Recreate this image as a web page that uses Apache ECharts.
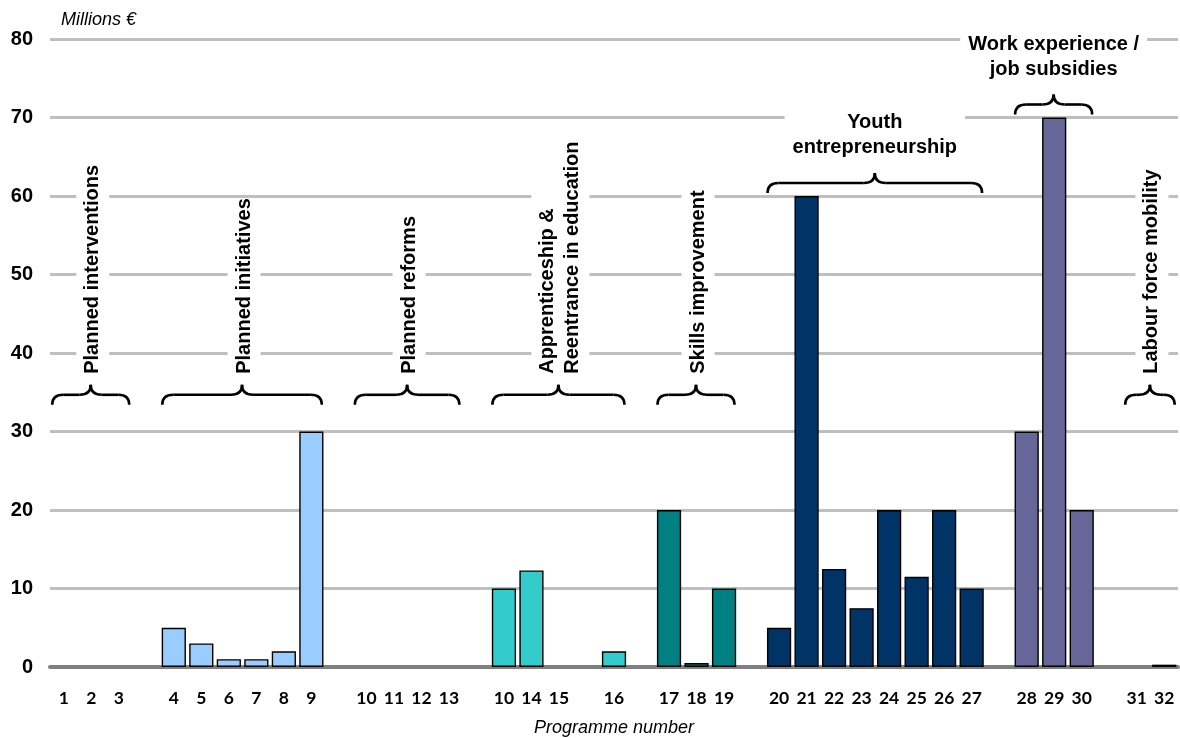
<!DOCTYPE html>
<html>
<head>
<meta charset="utf-8">
<script src="https://cdn.jsdelivr.net/npm/echarts@6/dist/echarts.min.js"></script>
<style>
  html, body { margin: 0; padding: 0; background: #fff; }
  #chart { width: 1180px; height: 738px; }
</style>
</head>
<body>
<div id="chart"></div>
<script>
// Programme numbers along the x axis; '' marks the spacer slot between groups
const categories = [
  '1', '2', '3', '',
  '4', '5', '6', '7', '8', '9', '',
  '10', '11', '12', '13', '',
  '10', '14', '15', '', '16', '',
  '17', '18', '19', '',
  '20', '21', '22', '23', '24', '25', '26', '27', '',
  '28', '29', '30', '',
  '31', '32'
];

// Budget per programme, millions of euros (null = spacer slot)
const budgets = [
  0, 0, 0, null,
  5, 3, 1, 1, 2, 30, null,
  0, 0, 0, 0, null,
  10, 12.3, 0, null, 2, null,
  20, 0.5, 10, null,
  5, 60, 12.5, 7.5, 20, 11.5, 20, 10, null,
  30, 70, 20, null,
  0, 0.3
];

// Programme groups: label and first/last slot on the category axis
const groupLabels = [
  'Planned interventions',
  'Planned initiatives',
  'Planned reforms',
  'Apprenticeship &\nReentrance in education',
  'Skills improvement',
  'Youth\nentrepreneurship',
  'Work experience /\njob subsidies',
  'Labour force mobility'
];
const groupFirstSlot = [0, 4, 11, 16, 22, 26, 35, 39];
const groupLastSlot  = [2, 9, 14, 20, 24, 33, 37, 40];

const yTicks = [0, 10, 20, 30, 40, 50, 60, 70, 80];

// Appearance
const groupColors = ['#99CCFF', '#99CCFF', '#99CCFF', '#33CCCC', '#008080', '#003366', '#666699', '#666699'];
const horizontalLabel = [false, false, false, false, false, true, true, false];
const BRACE_FLOOR = 33.4;   // braces never sit lower than this value

function groupOf(i) {
  for (let g = 0; g < groupFirstSlot.length; g++) {
    if (i >= groupFirstSlot[g] && i <= groupLastSlot[g]) return g;
  }
  return 0;
}

const barData = budgets.map((v, i) => ({
  value: v,
  itemStyle: {
    color: groupColors[groupOf(i)],
    borderWidth: v ? 1.4 : 0
  }
}));

const chart = echarts.init(document.getElementById('chart'), null, { renderer: 'canvas' });

chart.setOption({
  animation: false,
  backgroundColor: '#ffffff',
  title: {
    text: 'Millions €',
    left: 61, top: 11, padding: 0,
    textStyle: { fontFamily: 'Liberation Sans, Arial, sans-serif', fontStyle: 'italic', fontWeight: 'normal', fontSize: 18, color: '#000' }
  },
  grid: { left: 50, right: 2, top: 39, bottom: 71, outerBoundsMode: 'none', containLabel: false },
  xAxis: {
    type: 'category',
    data: categories,
    name: 'Programme number',
    nameLocation: 'middle',
    nameGap: 52,
    nameTextStyle: { fontFamily: 'Liberation Sans, Arial, sans-serif', fontStyle: 'italic', fontSize: 18, color: '#000' },
    axisTick: { show: false },
    axisLine: { show: true, lineStyle: { color: '#808080', width: 4 } },
    axisLabel: {
      interval: 0, margin: 22,
      fontFamily: 'Lato, sans-serif', fontWeight: 'bold', fontSize: 17.5, color: '#000'
    },
    splitLine: { show: false }
  },
  yAxis: {
    type: 'value',
    min: yTicks[0], max: yTicks[yTicks.length - 1], interval: yTicks[1] - yTicks[0],
    axisLine: { show: false },
    axisTick: { show: false },
    axisLabel: {
      margin: 17,
      fontFamily: 'Liberation Sans, Arial, sans-serif', fontWeight: 'bold', fontSize: 20, color: '#000'
    },
    splitLine: { lineStyle: { color: '#BFBFBF', width: 3 } }
  },
  series: [{
    type: 'bar',
    data: barData,
    barCategoryGap: '12%',
    itemStyle: { borderColor: '#000' },
    z: 1
  }]
});

// Braces and group captions, placed from the axis scales
function px(slot, value) {
  return chart.convertToPixel({ gridIndex: 0 }, [slot, value]);
}

const braceStroke = { fill: 'none', stroke: '#000', lineWidth: 2.6 };

function braceParts(xL, xR, yb) {
  const xm = (xL + xR) / 2, ym = yb - 10, yt = yb - 20, r = 11;
  const curve = (x1, y1, cx, cy, x2, y2) => ({
    type: 'bezierCurve',
    shape: { x1: x1, y1: y1, cpx1: cx, cpy1: cy, x2: x2, y2: y2 },
    style: braceStroke, z: 10
  });
  const seg = (x1, x2) => ({
    type: 'line',
    shape: { x1: x1, y1: ym, x2: x2, y2: ym },
    style: braceStroke, z: 10
  });
  return [
    curve(xL, yb, xL, ym, xL + r, ym),
    seg(xL + r, xm - r),
    curve(xm - r, ym, xm, ym, xm, yt),
    curve(xm, yt, xm, ym, xm + r, ym),
    seg(xm + r, xR - r),
    curve(xR - r, ym, xR, ym, xR, yb)
  ];
}

const slotW = px(1, 0)[0] - px(0, 0)[0];
const floorY = px(0, BRACE_FLOOR)[1];
const graphics = [];

groupLabels.forEach((label, g) => {
  const first = groupFirstSlot[g], last = groupLastSlot[g];
  let maxV = 0;
  for (let i = first; i <= last; i++) if (budgets[i] != null) maxV = Math.max(maxV, budgets[i]);
  const xL = px(first, 0)[0] - 0.42 * slotW;
  const xR = px(last, 0)[0] + 0.38 * slotW;
  const yb = Math.min(floorY, px(first, maxV)[1] - 3);
  const xm = (xL + xR) / 2;
  const tipY = yb - 20;

  braceParts(xL, xR, yb).forEach(p => graphics.push(p));

  const textStyle = {
    text: label,
    fontFamily: 'Liberation Sans, Arial, sans-serif',
    fontWeight: 'bold',
    fontSize: 20,
    lineHeight: 25,
    fill: '#000',
    backgroundColor: '#fff'
  };

  if (horizontalLabel[g]) {
    graphics.push({
      type: 'text',
      x: xm, y: tipY - 13,
      style: Object.assign(textStyle, { align: 'center', verticalAlign: 'bottom', padding: [0, 8] }),
      z: 9
    });
  } else {
    graphics.push({
      type: 'text',
      x: xm + 2, y: tipY - 11,
      rotation: Math.PI / 2,
      style: Object.assign(textStyle, { align: 'left', verticalAlign: 'middle', padding: [4, 0] }),
      z: 9
    });
  }
});

chart.setOption({ graphic: { elements: graphics } });
</script>
</body>
</html>
